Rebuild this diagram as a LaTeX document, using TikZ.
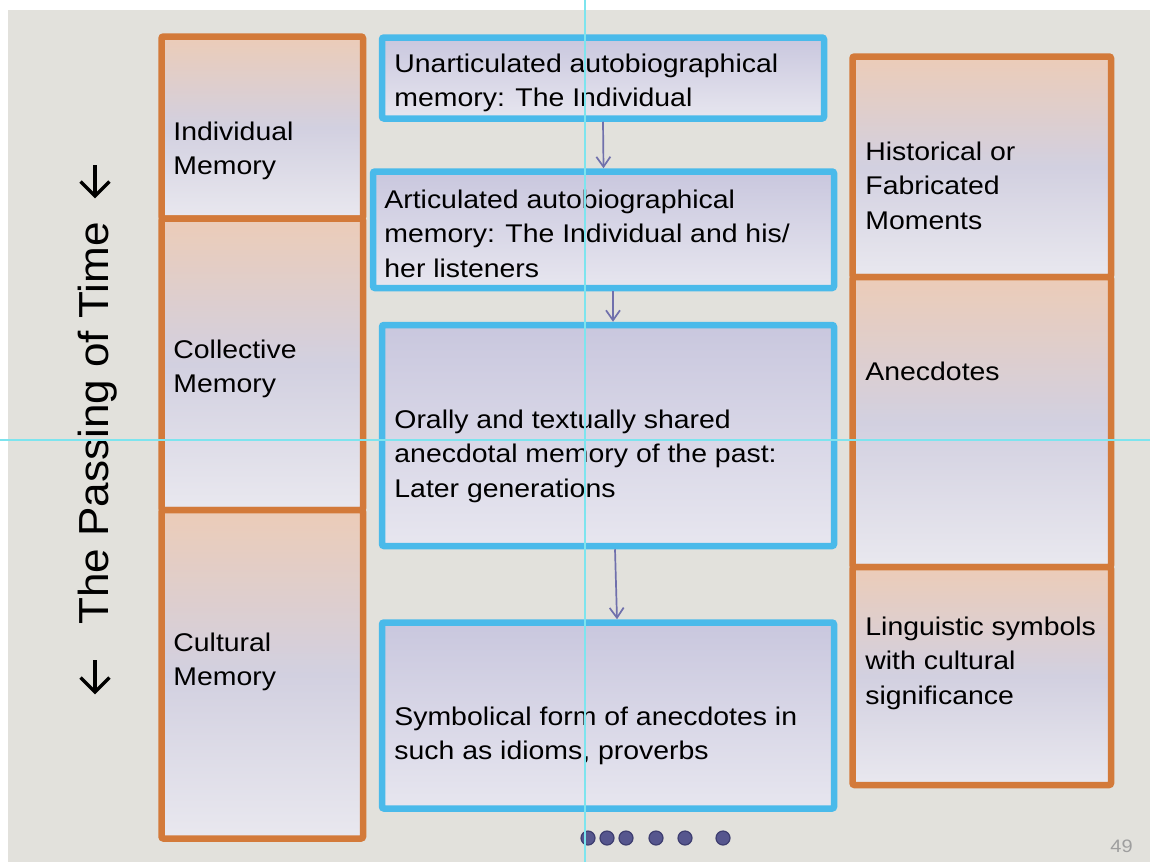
\documentclass[tikz,border=0pt]{standalone}
\usepackage{fontspec}
\setmainfont[FakeStretch=1.11]{Liberation Sans}
\newfontfamily\titlefont[FakeStretch=1.05]{Liberation Sans}
\usetikzlibrary{fit,arrows.meta,calc}
\definecolor{bg}{RGB}{226,225,220}
\definecolor{orgb}{RGB}{211,122,58}
\definecolor{blueb}{RGB}{74,186,234}
\definecolor{peach}{RGB}{236,204,184}
\definecolor{lav}{RGB}{210,208,224}
\definecolor{lightb}{RGB}{233,232,239}
\definecolor{lav2}{RGB}{201,199,222}
\definecolor{lightb2}{RGB}{231,230,239}
\definecolor{arrowc}{RGB}{112,112,172}
\definecolor{dotc}{RGB}{86,86,142}
\definecolor{dotrim}{RGB}{62,62,112}
\definecolor{guide}{RGB}{125,228,238}
\definecolor{numgray}{RGB}{158,158,158}
\newcommand{\boxfont}{\fontsize{12.8}{17.25}\selectfont}
\newcommand{\lines}[1]{\begin{tabular}[t]{@{}l@{}}#1\end{tabular}}
\begin{document}
\begin{tikzpicture}[x=0.5pt,y=-0.5pt,
  obox/.style={draw=orgb, line width=3.25pt, rounded corners=1pt,
    top color=peach, bottom color=lightb, middle color=lav, inner sep=0pt},
  bbox/.style={draw=blueb, line width=3.25pt, rounded corners=1pt,
    top color=lav2, bottom color=lightb2, inner sep=0pt},
  txt/.style={anchor=base west, inner sep=0pt, font=\boxfont, text=black},
  flow/.style={draw=arrowc, line width=0.85pt, -{Straight Barb[length=5pt,width=7pt]}},
  tarrow/.style={draw=black, line width=1.75pt},
  dot/.style={circle, fill=dotc, draw=dotrim, line width=0.6pt, minimum size=7pt, inner sep=0pt},
  guideline/.style={draw=guide, line width=0.6pt}]
\useasboundingbox (0,0) rectangle (1150,862);
\fill[white] (0,0) rectangle (1150,862);
\fill[bg] (8,10) rectangle (1150,862);

% left column
\node[obox, fit={(161.5,36.5) (363,218.5)}] (ind) {};
\node[obox, fit={(161.5,218.5) (363,510)}] (col) {};
\node[obox, fit={(161.5,510) (363,838.5)}] (cul) {};
% right column
\node[obox, fit={(852.5,56.5) (1111,277)}] (hist) {};
\node[obox, fit={(852.5,277) (1111,567)}] (anec) {};
\node[obox, fit={(852.5,567) (1111,785)}] (ling) {};
% middle column
\node[bbox, fit={(382,37.5) (824,118.5)}] (u1) {};
\node[bbox, fit={(373,171.5) (834,288)}] (u2) {};
\node[bbox, fit={(382,325) (834,546)}] (u3) {};
\node[bbox, fit={(382,622.5) (834,808.5)}] (u4) {};

% texts
\node[txt] (tind) at (173,140) {\lines{Individual\\Memory}};
\node[txt] (tcol) at (173,358) {\lines{Collective\\Memory}};
\node[txt] (tcul) at (173,651) {\lines{Cultural\\Memory}};
\node[txt] (tu1) at (394,72) {\lines{Unarticulated autobiographical\\memory: The Individual}};
\node[txt] (tu2) at (384,208) {\lines{Articulated autobiographical\\memory: The Individual and his/\\her listeners}};
\node[txt] (tu3) at (394,428) {\lines{Orally and textually shared\\anecdotal memory of the past:\\Later generations}};
\node[txt] (tu4) at (394,725) {\lines{Symbolical form of anecdotes in\\such as idioms, proverbs}};
\node[txt] (thist) at (865,160) {\lines{Historical or\\Fabricated\\Moments}};
\node[txt] (tanec) at (865,380) {\lines{Anecdotes}};
\node[txt] (tling) at (865,635) {\lines{Linguistic symbols\\with cultural\\significance}};

% flow arrows
\draw[flow] (u1.south) -- (u2.north);
\draw[flow] ([xshift=4.75pt]u2.south) -- ([xshift=2.5pt]u3.north);
\draw[flow] ([xshift=3.5pt]u3.south) -- ([xshift=4.5pt]u4.north);

% title
\node[rotate=90, anchor=base, inner sep=0pt, font=\titlefont\fontsize{21}{25}\selectfont] (title) at (108,423.5) {The Passing of Time};
\draw[tarrow] (95,165) -- (95,196);
\draw[tarrow, line join=miter] (80.5,181.5) -- (95,196) -- (109.5,181.5);
\draw[tarrow] (95,660) -- (95,692);
\draw[tarrow, line join=miter] (80.5,677.5) -- (95,692) -- (109.5,677.5);

% dots and page number
\foreach \x [count=\i] in {588,607,626,656,685,723} {
  \node[dot] (d\i) at (\x,838) {};
}
\node[anchor=base east, inner sep=0pt, font=\fontsize{9}{10}\selectfont, text=numgray] (pg) at (1133,852) {49};

% guide lines
\draw[guideline] (585,0) -- (585,862);
\draw[guideline] (0,440) -- (1150,440);
\end{tikzpicture}
\end{document}
